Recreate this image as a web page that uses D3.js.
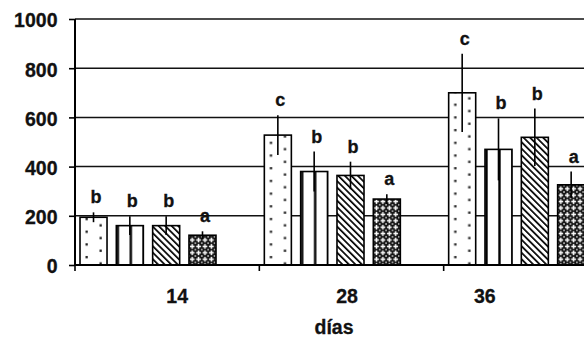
<!DOCTYPE html>
<html><head><meta charset="utf-8">
<script src="https://cdn.jsdelivr.net/npm/d3@7"></script>
<style>html,body{margin:0;padding:0;background:#fff;overflow:hidden}</style>
</head><body><svg id="c" width="584" height="339"></svg>
<script>
// ---- data ----
const categories = ["14", "28", "36"];
const series = ["s1", "s2", "s3", "s4"];
const means = [[194, 160, 160, 121], [528, 380, 364, 268], [700, 470, 519, 326]];
const errors = [[20, 38, 38, 16], [81, 81, 56, 20], [159, 126, 117, 54]];
const letters = [["b", "b", "b", "a"], ["c", "b", "b", "a"], ["c", "b", "b", "a"]];
const yTicks = [0, 200, 400, 600, 800, 1000];
const xTitle = "días";

// ---- layout ----
const W = 584, H = 339;
const mLeft = 75, mBottom = 265, mTop = 19, mRight = 628;
const labelShift = [10, -4.5, -51]; // category label offsets from band centre
const font = "'Liberation Sans', Arial, sans-serif";

const svg = d3.select("#c");
svg.append("rect").attr("width", W).attr("height", H).attr("fill", "#fff");

const x0 = d3.scaleBand().domain(categories).range([mLeft, mRight]).padding(0);
const x1 = d3.scaleBand().domain(series).range([5, 141]).paddingInner(0.256);
const y = d3.scaleLinear().domain([0, 1000]).range([mBottom, mTop]);
const bw = x1.bandwidth();

// ---- patterns ----
const defs = svg.append("defs");
let p = defs.append("pattern").attr("id", "p0").attr("patternUnits", "userSpaceOnUse")
  .attr("width", 27).attr("height", 12.7);
p.append("rect").attr("width", 27).attr("height", 12.7).attr("fill", "#fff");
p.append("rect").attr("x", 5.5).attr("y", 2).attr("width", 2.3).attr("height", 2.3).attr("fill", "#222");
p.append("rect").attr("x", 19.5).attr("y", 8.3).attr("width", 2.3).attr("height", 2.3).attr("fill", "#222");

p = defs.append("pattern").attr("id", "p1").attr("patternUnits", "userSpaceOnUse")
  .attr("width", 13).attr("height", 10);
p.append("rect").attr("width", 13).attr("height", 10).attr("fill", "#fff");
p.append("rect").attr("x", 0.3).attr("width", 2.4).attr("height", 10).attr("fill", "#000");

p = defs.append("pattern").attr("id", "p2").attr("patternUnits", "userSpaceOnUse")
  .attr("width", 4.6).attr("height", 10).attr("patternTransform", "rotate(-45)");
p.append("rect").attr("width", 4.6).attr("height", 10).attr("fill", "#fff");
p.append("rect").attr("x", 0).attr("width", 1.7).attr("height", 10).attr("fill", "#000");

p = defs.append("pattern").attr("id", "p3").attr("patternUnits", "userSpaceOnUse")
  .attr("width", 6.4).attr("height", 6.4);
p.append("rect").attr("width", 6.4).attr("height", 6.4).attr("fill", "#111");
p.append("rect").attr("x", 2.45).attr("y", 0.8).attr("width", 1.5).attr("height", 4.8).attr("fill", "#fff");
p.append("rect").attr("x", 0.8).attr("y", 2.45).attr("width", 4.8).attr("height", 1.5).attr("fill", "#fff");
[[-0.7, -0.7], [5.7, 5.7], [5.7, -0.7], [-0.7, 5.7]].forEach(([a, b]) =>
  p.append("rect").attr("x", a).attr("y", b).attr("width", 1.4).attr("height", 1.4).attr("fill", "#fff"));

// ---- gridlines ----
svg.append("g").selectAll("line").data(yTicks.filter(d => d > 0)).join("line")
  .attr("x1", mLeft).attr("x2", mRight)
  .attr("y1", d => y(d)).attr("y2", d => y(d))
  .attr("stroke", "#111").attr("stroke-width", 1.5);

// ---- bars ----
const rows = [];
categories.forEach((c, i) => series.forEach((s, j) => rows.push({
  c, s, j, v: means[i][j], e: errors[i][j], l: letters[i][j]
})));

const bars = svg.append("g").selectAll("g").data(rows).join("g")
  .attr("transform", d => `translate(${x0(d.c) + x1(d.s)},0)`);
bars.append("rect")
  .attr("x", 0).attr("width", bw)
  .attr("y", d => y(d.v)).attr("height", d => y(0) - y(d.v))
  .attr("fill", d => `url(#p${d.j})`)
  .attr("stroke", "#000").attr("stroke-width", 1.6);
bars.append("line")
  .attr("x1", bw / 2).attr("x2", bw / 2)
  .attr("y1", d => y(d.v + d.e)).attr("y2", d => y(Math.max(0, d.v - d.e)))
  .attr("stroke", "#000").attr("stroke-width", 1.6);
bars.append("text")
  .attr("x", bw / 2 + 2.5).attr("y", d => y(d.v + d.e) - 9)
  .attr("text-anchor", "middle")
  .style("font-family", font).style("font-weight", "bold").style("font-size", "18px")
  .attr("fill", "#111").attr("stroke", "#111").attr("stroke-width", 0.3).text(d => d.l);

// ---- axes ----
const yAxis = svg.append("g").attr("transform", `translate(${mLeft},0)`)
  .call(d3.axisLeft(y).tickValues(yTicks).tickSize(6).tickPadding(11.5).tickFormat(d3.format("d")));
yAxis.select(".domain").attr("stroke", "#000").attr("stroke-width", 2).attr("d", `M0,${mTop}V${mBottom}`);
yAxis.selectAll(".tick line").attr("stroke", "#000").attr("stroke-width", 1.6);
yAxis.selectAll("text").attr("dy", "0.4em")
  .style("font-family", font).style("font-weight", "bold").style("font-size", "19.5px")
  .attr("fill", "#111").attr("stroke", "#111").attr("stroke-width", 0.3);

const xAxis = svg.append("g").attr("transform", `translate(0,${mBottom})`);
xAxis.append("line").attr("x1", mLeft).attr("x2", mRight).attr("y1", 0).attr("y2", 0)
  .attr("stroke", "#000").attr("stroke-width", 2);
xAxis.selectAll("line.tk").data(categories).join("line").attr("class", "tk")
  .attr("x1", d => x0(d)).attr("x2", d => x0(d)).attr("y1", 0).attr("y2", 6)
  .attr("stroke", "#000").attr("stroke-width", 1.6);
xAxis.selectAll("text").data(categories).join("text")
  .attr("x", (d, i) => x0(d) + x0.bandwidth() / 2 + labelShift[i]).attr("y", 38)
  .attr("text-anchor", "middle")
  .style("font-family", font).style("font-weight", "bold").style("font-size", "19.5px")
  .attr("fill", "#111").attr("stroke", "#111").attr("stroke-width", 0.3).text(d => d);

svg.append("text").attr("x", 334).attr("y", 334).attr("text-anchor", "middle")
  .style("font-family", font).style("font-weight", "bold").style("font-size", "19.5px")
  .attr("fill", "#111").attr("stroke", "#111").attr("stroke-width", 0.3).text(xTitle);
</script>
</body></html>
